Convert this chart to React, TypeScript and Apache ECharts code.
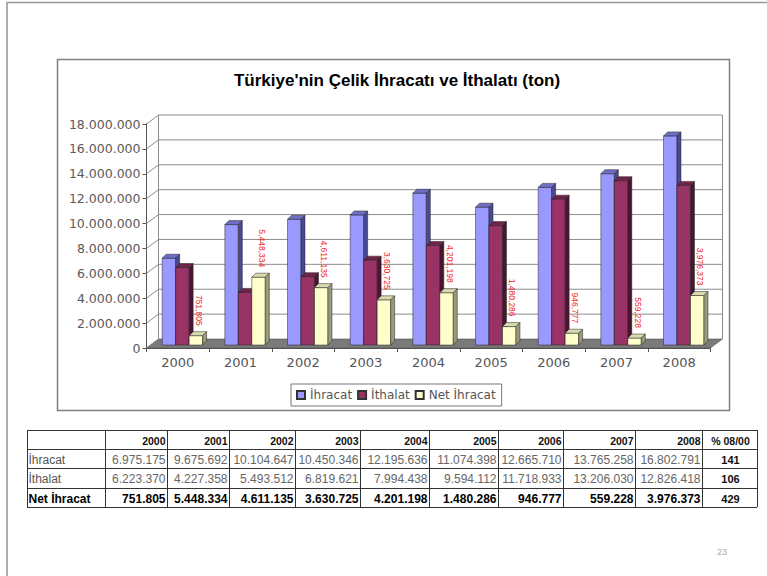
import React, { useEffect, useRef } from "react";
import * as echarts from "echarts";

// ---------- data ----------
const years = ["2000", "2001", "2002", "2003", "2004", "2005", "2006", "2007", "2008"];
const ihracat = [6975175, 9675692, 10104647, 10450346, 12195636, 11074398, 12665710, 13765258, 16802791];
const ithalat = [6223370, 4227358, 5493512, 6819621, 7994438, 9594112, 11718933, 13206030, 12826418];
const netIhracat = [751805, 5448334, 4611135, 3630725, 4201198, 1480286, 946777, 559228, 3976373];
const pctChange = [141, 106, 429];
const yTicks = [0, 2000000, 4000000, 6000000, 8000000, 10000000, 12000000, 14000000, 16000000, 18000000];
const seriesNames = ["İhracat", "İthalat", "Net İhracat"];
const titleText = "Türkiye'nin Çelik İhracatı ve İthalatı (ton)";
const pctHeader = "% 08/00";
const pageNumber = "23";

// ---------- helpers / styles ----------
const fmtDot = (v: number) => String(v).replace(/\B(?=(\d{3})+(?!\d))/g, ".");
const fmtComma = (v: number) => String(v).replace(/\B(?=(\d{3})+(?!\d))/g, ",");

const FACES = [
  { front: "#9999FF", top: "#6E6EC4", side: "#4A4A94" },
  { front: "#993366", top: "#702449", side: "#4A1530" },
  { front: "#FFFFCC", top: "#DADAB0", side: "#9A9A78" },
];
const DX = 12;
const DY = 9;
const BD = 4;
const EDGE = "#222";

const barRender = (si: number, withLabel: boolean) => (params: any, api: any) => {
  const cat = api.value(0);
  const val = api.value(1);
  const base = api.coord([cat, 0]);
  const top = api.coord([cat, val]);
  const cw = api.size([1, 0])[0];
  const bw = cw * 0.215;
  const x0 = base[0] + cw * 0.073 + (si - 1.5) * bw;
  const x1 = x0 + bw;
  const yb = base[1] - 3;
  const yt = top[1] - 3;
  const f = FACES[si];
  const st = { stroke: EDGE, lineWidth: 0.5 };
  const children: any[] = [
    { type: "rect", shape: { x: x0, y: yt, width: bw, height: yb - yt }, style: { fill: f.front, ...st } },
    {
      type: "polygon",
      shape: { points: [[x0, yt], [x1, yt], [x1 + BD, yt - BD], [x0 + BD, yt - BD]] },
      style: { fill: f.top, ...st },
    },
    {
      type: "polygon",
      shape: { points: [[x1, yt], [x1 + BD, yt - BD], [x1 + BD, yb - BD], [x1, yb]] },
      style: { fill: f.side, ...st },
    },
  ];
  if (withLabel) {
    children.push({
      type: "text",
      x: (x0 + x1) / 2 + 3,
      y: yt - BD - 6,
      rotation: -Math.PI / 2,
      style: {
        text: fmtComma(val),
        fill: "#F02828",
        font: '8.5px "Liberation Sans"',
        align: "right",
        verticalAlign: "middle",
      },
    });
  }
  return { type: "group", children };
};

const frameRender = (params: any, api: any) => {
  const cs = params.coordSys;
  const L = cs.x;
  const R = cs.x + cs.width;
  const v = api.value(1);
  const y = api.coord([0, v])[1];
  const y0 = api.coord([0, 0])[1];
  const children: any[] = [];
  if (v === 0) {
    children.push({
      type: "polygon",
      shape: { points: [[L, y], [R, y], [R + DX, y - DY], [L + DX, y - DY]] },
      style: { fill: "#7a7a7a", stroke: "#555", lineWidth: 0.6 },
    });
  } else {
    children.push({
      type: "line",
      shape: { x1: L + DX, y1: y - DY, x2: R + DX, y2: y - DY },
      style: { stroke: "#8c8c8c", lineWidth: 1 },
    });
  }
  children.push({
    type: "line",
    shape: { x1: L, y1: y, x2: L + DX, y2: y - DY },
    style: { stroke: "#8c8c8c", lineWidth: 1 },
  });
  if (params.dataIndex === yTicks.length - 1) {
    children.push({
      type: "line",
      shape: { x1: L + DX, y1: y - DY, x2: L + DX, y2: y0 - DY },
      style: { stroke: "#8c8c8c", lineWidth: 1 },
    });
    children.push({
      type: "line",
      shape: { x1: R + DX, y1: y - DY, x2: R + DX, y2: y0 - DY },
      style: { stroke: "#8c8c8c", lineWidth: 1 },
    });
  }
  return { type: "group", children };
};

// ---------- table (graphic) ----------
const colX = [27, 105, 167, 229, 295, 360, 429, 498, 563, 635, 702, 757];
const rowY = [430, 449, 468, 488, 507];

function buildTable(): any[] {
  const els: any[] = [];
  rowY.forEach((y) =>
    els.push({
      type: "line",
      shape: { x1: colX[0], y1: y + 0.5, x2: colX[colX.length - 1], y2: y + 0.5 },
      style: { stroke: "#333", lineWidth: 1 },
    })
  );
  colX.forEach((x) =>
    els.push({
      type: "line",
      shape: { x1: x + 0.5, y1: rowY[0], x2: x + 0.5, y2: rowY[rowY.length - 1] },
      style: { stroke: "#333", lineWidth: 1 },
    })
  );
  const cy = (r: number) => (rowY[r] + rowY[r + 1]) / 2 + 1;
  const txt = (x: number, y: number, text: string, font: string, fill: string, align: string) =>
    els.push({ type: "text", x, y, style: { text, font, fill, align, verticalAlign: "middle" } });

  years.forEach((yr, i) => txt(colX[i + 2] - 1.5, cy(0), yr, 'bold 10.5px "Liberation Sans"', "#111", "right"));
  txt((colX[10] + colX[11]) / 2 + 1, cy(0), pctHeader, 'bold 10.5px "Liberation Sans"', "#111", "center");

  const rows = [ihracat, ithalat, netIhracat];
  rows.forEach((arr, r) => {
    const bold = r === 2;
    const font = bold ? 'bold 12px "Liberation Sans"' : '12px "Liberation Sans"';
    const fill = bold ? "#000" : "#666";
    txt(colX[0] + 1.5, cy(r + 1), seriesNames[r], font, bold ? "#000" : "#555", "left");
    arr.forEach((v, i) => txt(colX[i + 2] - 1.5, cy(r + 1), fmtDot(v), font, fill, "right"));
    txt((colX[10] + colX[11]) / 2 + 1, cy(r + 1), String(pctChange[r]), 'bold 11px "Liberation Sans"', "#111", "center");
  });
  return els;
}

export default function App() {
  const ref = useRef<HTMLDivElement>(null);
  useEffect(() => {
    if (!ref.current) return;
    const chart = echarts.init(ref.current, null, { renderer: "svg" });
    const option: any = {
      animation: false,
      backgroundColor: "#fff",
      grid: { left: 146.5, top: 124, width: 564, height: 224, containLabel: false },
      legend: {
        data: seriesNames,
        left: 291,
        top: 384,
        orient: "horizontal",
        icon: "rect",
        itemWidth: 8,
        itemHeight: 8,
        itemGap: 5,
        padding: [5, 6, 5, 5],
        borderColor: "#777",
        borderWidth: 1,
        textStyle: { fontFamily: "DejaVu Sans", fontSize: 12, color: "#555" },
        selectedMode: false,
      },
      xAxis: {
        type: "category",
        data: years,
        boundaryGap: true,
        axisLine: { show: true, lineStyle: { color: "#555" } },
        axisTick: { show: true, length: 4, lineStyle: { color: "#555" } },
        axisLabel: { margin: 8, fontFamily: "DejaVu Sans", fontSize: 13, color: "#555" },
        splitLine: { show: false },
      },
      yAxis: {
        type: "value",
        min: 0,
        max: 18000000,
        interval: 2000000,
        axisLine: { show: true, lineStyle: { color: "#555" } },
        axisTick: { show: true, length: 4, lineStyle: { color: "#555" } },
        axisLabel: {
          margin: 6,
          fontFamily: "DejaVu Sans",
          fontSize: 12.5,
          color: "#5a5a5a",
          formatter: (v: number) => fmtDot(v),
        },
        splitLine: { show: false },
      },
      series: [
        {
          type: "custom",
          name: "_frame",
          silent: true,
          clip: false,
          z: 1,
          renderItem: frameRender,
          data: yTicks.map((v) => [0, v]),
          encode: { x: 0, y: 1 },
        },
        ...[ihracat, ithalat, netIhracat].map((arr, si) => ({
          type: "custom",
          name: seriesNames[si],
          clip: false,
          z: 2 + si,
          renderItem: barRender(si, si === 2),
          itemStyle: { color: FACES[si].front, borderColor: "#333", borderWidth: 0.8 },
          data: arr.map((v, i) => [i, v]),
          encode: { x: 0, y: 1 },
        })),
      ],
      graphic: [
        {
          type: "polyline",
          shape: { points: [[7, 576], [7, 2.5], [767, 2.5]] },
          style: { stroke: "#999", lineWidth: 1.6, fill: "none" },
        },
        {
          type: "rect",
          shape: { x: 57.5, y: 59.5, width: 672, height: 351 },
          style: { stroke: "#7f7f7f", lineWidth: 1.5, fill: "none" },
        },
        {
          type: "text",
          x: 397,
          y: 80,
          style: {
            text: titleText,
            font: 'bold 17px "Liberation Sans"',
            fill: "#000",
            align: "center",
            verticalAlign: "middle",
          },
        },
        ...buildTable(),
        {
          type: "text",
          x: 722,
          y: 552,
          style: { text: pageNumber, font: '9px "Liberation Sans"', fill: "#aaa", align: "center", verticalAlign: "middle" },
        },
      ],
    };
    chart.setOption(option);
    return () => chart.dispose();
  }, []);
  return (
    <div
      ref={ref}
      style={{ position: "absolute", left: 0, top: 0, width: 767, height: 576, background: "#fff" }}
    />
  );
}
